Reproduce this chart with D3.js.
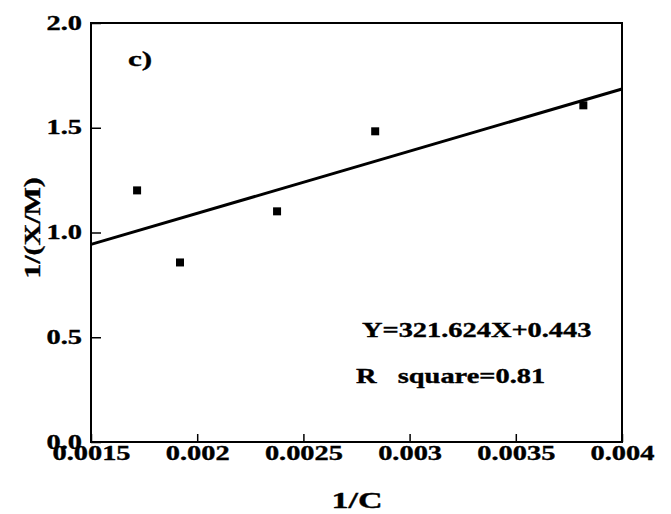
<!DOCTYPE html>
<html>
<head>
<meta charset="utf-8">
<script src="https://cdn.jsdelivr.net/npm/d3@7"></script>
<style>
  body { margin: 0; background: #fff; }
  text { font-family: "Liberation Serif", "Times New Roman", serif; font-weight: bold; fill: #000; stroke: #000; stroke-width: 0.35px; }
</style>
</head>
<body>
<div id="chart"></div>
<script>
// data
var invC = [0.001717, 0.001919, 0.002376, 0.002838, 0.003818];
var invXM = [1.201, 0.857, 1.101, 1.483, 1.607];

var xTicks = [0.0015, 0.002, 0.0025, 0.003, 0.0035, 0.004];
var xTickLabels = ["0.0015", "0.002", "0.0025", "0.003", "0.0035", "0.004"];
var yTicks = [0, 0.5, 1.0, 1.5, 2.0];
var yTickLabels = ["0.0", "0.5", "1.0", "1.5", "2.0"];

var width = 671, height = 514;
var margin = { left: 91, right: 49, top: 23, bottom: 72 };
var stretch = 1.42; // the scanned lettering is wide

var svg = d3.select("#chart").append("svg")
  .attr("width", width)
  .attr("height", height);

svg.append("rect").attr("width", width).attr("height", height).attr("fill", "#fff");

var x = d3.scaleLinear()
  .domain([0.0015, 0.004])
  .range([margin.left, width - margin.right]);

var y = d3.scaleLinear()
  .domain([0, 2])
  .range([height - margin.bottom, margin.top]);

// least squares fit of the points
var mx = d3.mean(invC), my = d3.mean(invXM);
var sxy = d3.sum(invC, function(d, i) { return (d - mx) * (invXM[i] - my); });
var sxx = d3.sum(invC, function(d) { return (d - mx) * (d - mx); });
var slope = sxy / sxx;
var icept = my - slope * mx;

// Axes, ticks pointing inward
var xAxis = d3.axisBottom(x)
  .tickValues(xTicks)
  .tickFormat(function(d, i) { return xTickLabels[i]; })
  .tickSizeInner(-8)
  .tickSizeOuter(0)
  .tickPadding(4);

var yAxis = d3.axisLeft(y)
  .tickValues(yTicks)
  .tickFormat(function(d, i) { return yTickLabels[i]; })
  .tickSizeInner(-10)
  .tickSizeOuter(0)
  .tickPadding(6.3);

var gx = svg.append("g")
  .attr("transform", "translate(0," + y(0) + ")")
  .call(xAxis);

var gy = svg.append("g")
  .attr("transform", "translate(" + margin.left + ",0)")
  .call(yAxis);

[gx, gy].forEach(function(g) {
  g.select(".domain").remove();
  g.selectAll(".tick line").attr("stroke", "#000").attr("stroke-width", 1.5);
  g.selectAll(".tick text")
    .attr("transform", "scale(" + stretch + ",1)")
    .style("font-size", "20px")
    .attr("fill", "#000");
});
gy.selectAll(".tick text").attr("dy", "0.3em");

// frame
svg.append("rect")
  .attr("x", x(0.0015))
  .attr("y", y(2))
  .attr("width", x(0.004) - x(0.0015))
  .attr("height", y(0) - y(2))
  .attr("fill", "none")
  .attr("stroke", "#000")
  .attr("stroke-width", 2);

// fit line
svg.append("line")
  .attr("x1", x(0.0015))
  .attr("y1", y(icept + slope * 0.0015))
  .attr("x2", x(0.004))
  .attr("y2", y(icept + slope * 0.004))
  .attr("stroke", "#000")
  .attr("stroke-width", 3);

// points
svg.selectAll("rect.pt")
  .data(invC)
  .enter()
  .append("rect")
  .classed("pt", true)
  .attr("x", function(d) { return x(d) - 4; })
  .attr("y", function(d, i) { return y(invXM[i]) - 4; })
  .attr("width", 8)
  .attr("height", 8)
  .attr("fill", "#000");

function label(txt, tx, ty, size, extra) {
  return svg.append("text")
    .attr("transform", "translate(" + tx + "," + ty + ")" + (extra || "") + " scale(" + stretch + ",1)")
    .style("font-size", size + "px")
    .style("white-space", "pre")
    .text(txt);
}

label("c)", 128, 66, 22);
label("Y=321.624X+0.443", 362, 337, 20);
label("R   square=0.81", 356, 383, 20);

// axis titles
label("1/C", 357, 508, 24).attr("text-anchor", "middle");
svg.append("text")
  .attr("transform", "translate(40,228) rotate(-90) scale(1.25,1)")
  .attr("text-anchor", "middle")
  .style("font-size", "24px")
  .text("1/(X/M)");
</script>
</body>
</html>
